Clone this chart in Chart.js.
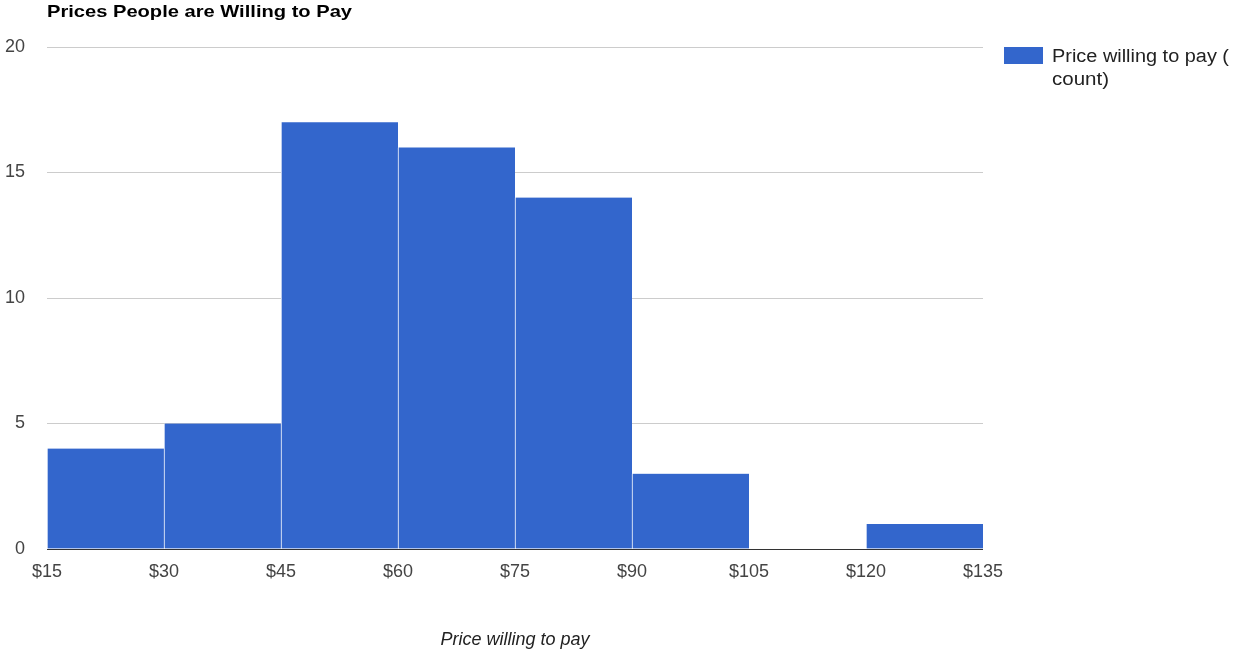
<!DOCTYPE html>
<html>
<head>
<meta charset="utf-8">
<title>Prices People are Willing to Pay</title>
<script src="https://cdn.jsdelivr.net/npm/chart.js@4/dist/chart.umd.min.js"></script>
<style>
  html, body { margin: 0; padding: 0; background: #fff; }
  #wrap { width: 1233px; height: 651px; position: relative; }
</style>
</head>
<body>
<div id="wrap"><canvas id="chart"></canvas></div>
<script>
// histogram bins: lower edge of each $15 bucket and how many answers fell in it
const binStarts = [15, 30, 45, 60, 75, 90, 105, 120];
const binWidth = 15;
const counts = [4, 5, 17, 16, 14, 3, 0, 1];
const yTicks = [0, 5, 10, 15, 20];

const chartTitle = 'Prices People are Willing to Pay';
const seriesName = ['Price willing to pay (', 'count)'];
const xTitle = 'Price willing to pay';
const barColor = '#3366cc';
const FONT = 'Arial, "Liberation Sans", Helvetica, sans-serif';

const points = binStarts.map((s, i) => ({ x: s + binWidth / 2, y: counts[i] }));
const edges = binStarts.concat([binStarts[binStarts.length - 1] + binWidth]);

// draw text squeezed/stretched to a given width
function fitText(ctx, text, x, y, width) {
  const sx = width / ctx.measureText(text).width;
  ctx.save();
  ctx.translate(x, y);
  ctx.scale(sx, 1);
  ctx.fillText(text, 0, 0);
  ctx.restore();
}

// title top-left and a wrapped legend on the right, google-charts style
const decorations = {
  id: 'decorations',
  afterDraw(chart) {
    const ctx = chart.ctx;
    const area = chart.chartArea;
    ctx.save();
    ctx.fillStyle = '#000';
    ctx.font = 'bold 17px ' + FONT;
    ctx.textBaseline = 'alphabetic';
    ctx.textAlign = 'left';
    fitText(ctx, chartTitle, area.left, 17, 305);

    ctx.fillStyle = barColor;
    ctx.fillRect(1004, 47, 39, 17);
    ctx.fillStyle = '#222';
    ctx.font = '18px ' + FONT;
    fitText(ctx, seriesName[0], 1052, 62, 177);
    fitText(ctx, seriesName[1], 1052, 85, 57);
    ctx.restore();
  }
};

new Chart(document.getElementById('chart'), {
  type: 'bar',
  data: {
    datasets: [{
      label: seriesName.join(''),
      data: points,
      backgroundColor: barColor,
      borderColor: '#ffffff',
      borderWidth: { left: 1, right: 0, top: 0, bottom: 0 },
      borderSkipped: false,
      barPercentage: 1,
      categoryPercentage: 1
    }]
  },
  options: {
    responsive: true,
    maintainAspectRatio: false,
    animation: false,
    layout: { padding: { top: 47, right: 250, left: 0, bottom: 0 } },
    plugins: {
      legend: { display: false },
      tooltip: { enabled: false }
    },
    scales: {
      x: {
        type: 'linear',
        offset: false,
        min: edges[0],
        max: edges[edges.length - 1],
        afterBuildTicks(scale) {
          scale.ticks = edges.map(v => ({ value: v }));
        },
        afterFit(scale) { scale.height = 102; },
        grid: { display: false, drawTicks: false, offset: false },
        border: { display: false },
        ticks: {
          padding: 12,
          maxRotation: 0,
          autoSkip: false,
          color: '#444',
          font: { family: FONT, size: 18 },
          callback: v => '$' + v
        },
        title: {
          display: true,
          text: xTitle,
          color: '#222',
          padding: { top: 0, bottom: 0 },
          font: { family: FONT, size: 18, style: 'italic' }
        }
      },
      y: {
        min: 0,
        max: 20,
        afterBuildTicks(scale) {
          scale.ticks = yTicks.map(v => ({ value: v }));
        },
        afterFit(scale) { scale.width = 47; },
        grid: {
          drawTicks: false,
          color: ctx => ctx.tick && ctx.tick.value === 0 ? '#333' : '#cccccc',
          lineWidth: 1
        },
        border: { display: false },
        ticks: {
          padding: 22,
          color: '#444',
          font: { family: FONT, size: 18 }
        }
      }
    }
  },
  plugins: [decorations]
});
</script>
</body>
</html>
